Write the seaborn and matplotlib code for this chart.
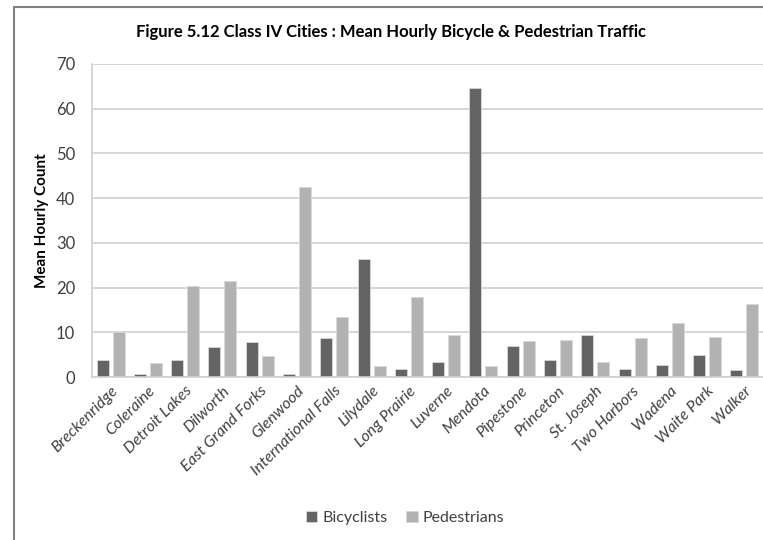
import pandas as pd
import matplotlib
matplotlib.use("Agg")
import matplotlib.pyplot as plt
from matplotlib.lines import Line2D
import seaborn as sns

# Values
cities = ["Breckenridge", "Coleraine", "Detroit Lakes", "Dilworth", "East Grand Forks",
          "Glenwood", "International Falls", "Lilydale", "Long Prairie", "Luverne",
          "Mendota", "Pipestone", "Princeton", "St. Joseph", "Two Harbors",
          "Wadena", "Waite Park", "Walker"]
bicyclists = [3.7, 0.7, 3.7, 6.6, 7.8, 0.7, 8.7, 26.4, 1.9, 3.4,
              64.7, 6.9, 3.7, 9.5, 1.7, 2.7, 4.9, 1.6]
pedestrians = [10.1, 3.1, 20.3, 21.5, 4.6, 42.6, 13.5, 2.5, 18.0, 9.5,
               2.5, 8.0, 8.2, 3.4, 8.8, 12.1, 9.0, 16.3]
yticks = [0, 10, 20, 30, 40, 50, 60, 70]

df = pd.DataFrame({"City": cities, "Bicyclists": bicyclists, "Pedestrians": pedestrians})
long_df = df.melt(id_vars="City", var_name="Group", value_name="Count")

sns.set_style("white")
plt.rcParams["font.family"] = ["Lato", "DejaVu Sans"]

fig = plt.figure(figsize=(7.63, 5.40), dpi=100)
ax = fig.add_axes([92 / 763, 163 / 540, 671 / 763, 313 / 540])

sns.barplot(data=long_df, x="City", y="Count", hue="Group", ax=ax,
            palette={"Bicyclists": "#646464", "Pedestrians": "#b2b2b2"},
            width=0.86, gap=0.25, edgecolor="#d8d8d8", linewidth=0.6,
            legend=True)

ax.set_ylim(0, 70)
ax.set_yticks(yticks)
ax.set_xlim(-0.5, len(cities) - 0.5)
ax.yaxis.grid(True, color="#d0d0d0", linewidth=1.2)
ax.set_axisbelow(True)
for side in ["top", "right"]:
    ax.spines[side].set_visible(False)
for side in ["left", "bottom"]:
    ax.spines[side].set_color("#d0d0d0")
    ax.spines[side].set_linewidth(1.2)

ax.tick_params(axis="both", length=0, colors="#404040", labelsize=12)
ax.tick_params(axis="y", pad=12)
ax.tick_params(axis="x", pad=5)
ax.set_xticks(range(len(cities)))
ax.set_xticklabels(cities, rotation=45, ha="right", rotation_mode="anchor",
                   fontsize=11.5, style="italic")
ax.set_xlabel("")
ax.set_ylabel("Mean Hourly Count", fontsize=11, fontweight="bold", color="black", labelpad=5)

fig.text(0.513, 0.94, "Figure 5.12 Class IV Cities : Mean Hourly Bicycle & Pedestrian Traffic",
         ha="center", va="center", fontsize=12, fontweight="bold", color="black")

ax.legend(loc="center", bbox_to_anchor=(405 / 763, 22 / 540), bbox_transform=fig.transFigure,
          ncol=2, frameon=False, fontsize=11.5, handlelength=0.7, handleheight=0.7,
          handletextpad=0.3, columnspacing=1.2)
for t in ax.get_legend().get_texts():
    t.set_color("#404040")

# outer chart border (left and top edges visible)
fig.add_artist(Line2D([14 / 763, 14 / 763], [0, 1 - 7 / 540], transform=fig.transFigure,
                      color="#808080", linewidth=1.5))
fig.add_artist(Line2D([14 / 763, 1], [1 - 7 / 540, 1 - 7 / 540], transform=fig.transFigure,
                      color="#808080", linewidth=1.5))

fig.savefig("out.png", dpi=100)
